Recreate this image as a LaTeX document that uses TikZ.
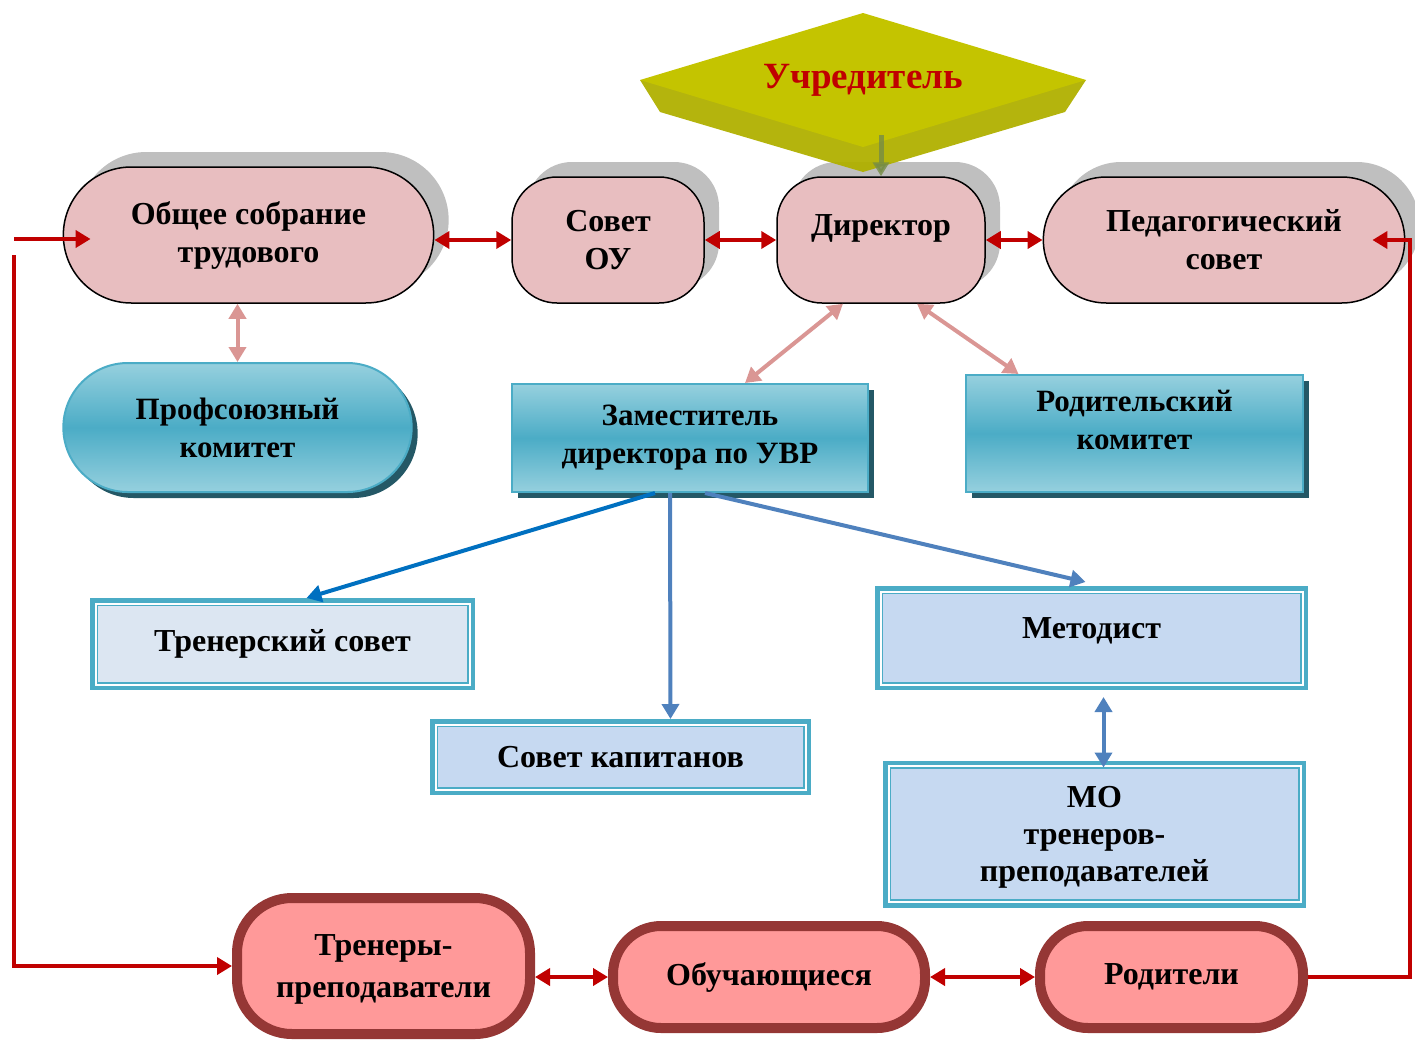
\documentclass[tikz,border=0pt]{standalone}
\usepackage{fontspec}
\setmainfont{Liberation Serif}
\usetikzlibrary{arrows.meta}
\usetikzlibrary{shapes.misc}
\usetikzlibrary{shadows}

\definecolor{cPink}{RGB}{232,190,192}
\definecolor{cShadow}{RGB}{191,191,191}
\definecolor{cRed}{RGB}{192,0,0}
\definecolor{cRose}{RGB}{218,150,148}
\definecolor{cTeal}{RGB}{75,172,198}
\definecolor{cTealL}{RGB}{150,208,222}
\definecolor{cTealD}{RGB}{36,88,102}
\definecolor{cFrameA}{RGB}{220,230,242}
\definecolor{cFrameB}{RGB}{198,217,241}
\definecolor{cBlue}{RGB}{79,129,189}
\definecolor{cBlueD}{RGB}{0,112,192}
\definecolor{cBrown}{RGB}{149,55,53}
\definecolor{cSalmon}{RGB}{255,153,153}
\definecolor{cOlive}{RGB}{196,196,0}
\definecolor{cOliveD}{RGB}{176,176,0}
\definecolor{cGreen}{RGB}{118,140,70}

\tikzset{
  topbox/.style={rounded rectangle, draw=black, line width=1.5pt, fill=cPink,
    general shadow={fill=cShadow, shadow xshift=15pt, shadow yshift=15pt},
    align=center, font=\bfseries\fontsize{32}{38}\selectfont},
  tealbox/.style={draw=cTeal, line width=2pt, top color=cTealL, bottom color=cTealL, middle color=cTeal,
    general shadow={fill=cTealD, shadow xshift=6pt, shadow yshift=-6pt},
    align=center, font=\bfseries\fontsize{31}{38}\selectfont},
  framebox/.style={rectangle, draw=cTeal, line width=8pt, fill=cFrameB,
    align=center, font=\bfseries\fontsize{32}{37}\selectfont},
  botbox/.style={rectangle, rounded corners=55pt, draw=cBrown, line width=10pt,
    fill=cSalmon, align=center, font=\bfseries\fontsize{32}{42}\selectfont},
  redarr/.style={draw=cRed, line width=4pt},
  rosearr/.style={draw=cRose, line width=4pt},
  bluearr/.style={draw=cBlue, line width=4pt}
}

\begin{document}
\begin{tikzpicture}[x=1pt,y=-1pt]
\def\al{15pt}
\def\aw{17pt}
\useasboundingbox (0,0) rectangle (1415,1039);

% upper row
\node [topbox, minimum width=377pt, minimum height=136pt, name=obs] at (248.5,235) {Общее собрание\\трудового};
\node [topbox, rectangle, rounded corners=45pt, minimum width=192pt, minimum height=126pt, name=sov] at (608,240) {Совет\\ОУ};
\node [topbox, rectangle, rounded corners=45pt, minimum width=208pt, minimum height=126pt, text depth=30pt, name=dir] at (881,240) {Директор};
\node [topbox, minimum width=368pt, minimum height=126pt, name=ped] at (1224,240) {Педагогический\\совет};

% founder
\fill [cOliveD, opacity=.95] (640,80) -- (660,112) -- (863,172) -- (1065,112) -- (1086,80) -- cycle;
\fill [cOlive] (640,80) -- (863,13) -- (1086,80) -- (863,147) -- cycle;
\node [text=cRed, font=\bfseries\fontsize{37}{40}\selectfont, minimum height=110pt, name=uch] at (863,80) {Учредитель};

% teal boxes
\node [tealbox, rounded rectangle, minimum width=355pt, minimum height=129pt, general shadow={fill=cTealD, shadow xshift=4pt, shadow yshift=-4pt}, name=prof] at (237.5,427.5) {Профсоюзный\\комитет};
\node [tealbox, minimum width=356pt, minimum height=108pt, name=zam] at (690,438) {Заместитель\\директора по УВР};
\node [tealbox, minimum width=337pt, minimum height=117pt, text depth=28pt, name=rodk] at (1134.5,433.5) {Родительский\\комитет};

% framed boxes
\node [framebox, fill=cFrameA, minimum width=377pt, minimum height=84pt, name=tren] at (282.5,644) {Тренерский совет};
\node [framebox, minimum width=373pt, minimum height=68pt, name=kap] at (620.5,757) {Совет капитанов};
\node [framebox, minimum width=425pt, minimum height=96pt, text depth=20pt, name=metod] at (1091.5,638) {Методист};
\node [framebox, minimum width=415pt, minimum height=139pt, text depth=0pt, name=mo] at (1094.5,834) {МО\\тренеров-\\преподавателей};
\foreach \n in {tren,kap,metod,mo}{
  \draw [white, line width=2pt] ([shift={(5.5pt,-5.5pt)}]\n.north west) rectangle ([shift={(-5.5pt,5.5pt)}]\n.south east);
  \draw [cTeal, line width=1.5pt] ([shift={(7.5pt,-7.5pt)}]\n.north west) rectangle ([shift={(-7.5pt,7.5pt)}]\n.south east);
}

% lower row
\node [botbox, minimum width=293pt, minimum height=136pt, text depth=0pt, name=tre] at (383.5,966) {Тренеры-\\преподаватели};
\node [botbox, rounded corners=48pt, minimum width=312pt, minimum height=102pt, name=obu] at (769,977) {Обучающиеся};
\node [botbox, rounded corners=48pt, minimum width=263pt, minimum height=102pt, name=rod] at (1171.5,977) {Родители};

\coordinate (lt) at (14,239);
\coordinate (lb) at (14,255);
\coordinate (rc) at (1410,240);

\draw [redarr, {Triangle[length=\al, width=\aw]}-{Triangle[length=\al, width=\aw]}] (sov.west -| obs.east) -- (sov.west);
\draw [redarr, {Triangle[length=\al, width=\aw]}-{Triangle[length=\al, width=\aw]}] (sov.east) -- (dir.west);
\draw [redarr, {Triangle[length=\al, width=\aw]}-{Triangle[length=\al, width=\aw]}] (dir.east) -- (ped.west);
\draw [redarr, -{Triangle[length=\al, width=\aw]}] (lt) -- ([xshift=28pt]obs.west |- lt);
\draw [redarr, -{Triangle[length=\al, width=\aw]}] (lb) |- (tre.west);
\draw [redarr, -{Triangle[length=\al, width=\aw]}] (rod.east) -| (rc) -- ([xshift=-33pt]ped.east);
\draw [redarr, {Triangle[length=\al, width=\aw]}-{Triangle[length=\al, width=\aw]}] (obu.west -| tre.east) -- (obu.west);
\draw [redarr, {Triangle[length=\al, width=\aw]}-{Triangle[length=\al, width=\aw]}] (obu.east) -- (rod.west);

\draw [draw=cGreen, opacity=.8, line width=5pt, -{Triangle[length=14pt, width=16pt]}] (uch.south -| dir.north) -- (dir.north);

\draw [rosearr, {Triangle[length=\al, width=\aw]}-{Triangle[length=\al, width=\aw]}] (prof.north |- obs.south) -- (prof.north);
\draw [rosearr, {Triangle[length=\al, width=\aw]}-{Triangle[length=\al, width=\aw]}] ([xshift=-38pt]dir.south) -- ([xshift=55pt]zam.north);
\draw [rosearr, {Triangle[length=\al, width=\aw]}-{Triangle[length=\al, width=\aw]}] ([xshift=36pt]dir.south) -- ([xshift=-116pt]rodk.north);

\draw [bluearr, draw=cBlueD, -{Triangle[length=\al, width=\aw]}] ([xshift=-35pt]zam.south) -- ([xshift=24pt]tren.north);
\draw [bluearr, -{Triangle[length=\al, width=\aw]}] ([xshift=-20pt]zam.south) -- ([xshift=50pt]kap.north);
\draw [bluearr, -{Triangle[length=\al, width=\aw]}] ([xshift=15pt]zam.south) -- ([xshift=-6pt, yshift=4pt]metod.north);
\draw [bluearr, {Triangle[length=\al, width=\aw]}-{Triangle[length=\al, width=\aw]}, shorten <=7pt, shorten >=-7pt] ([xshift=12pt]metod.south) -- ([xshift=9pt]mo.north);
\end{tikzpicture}
\end{document}
